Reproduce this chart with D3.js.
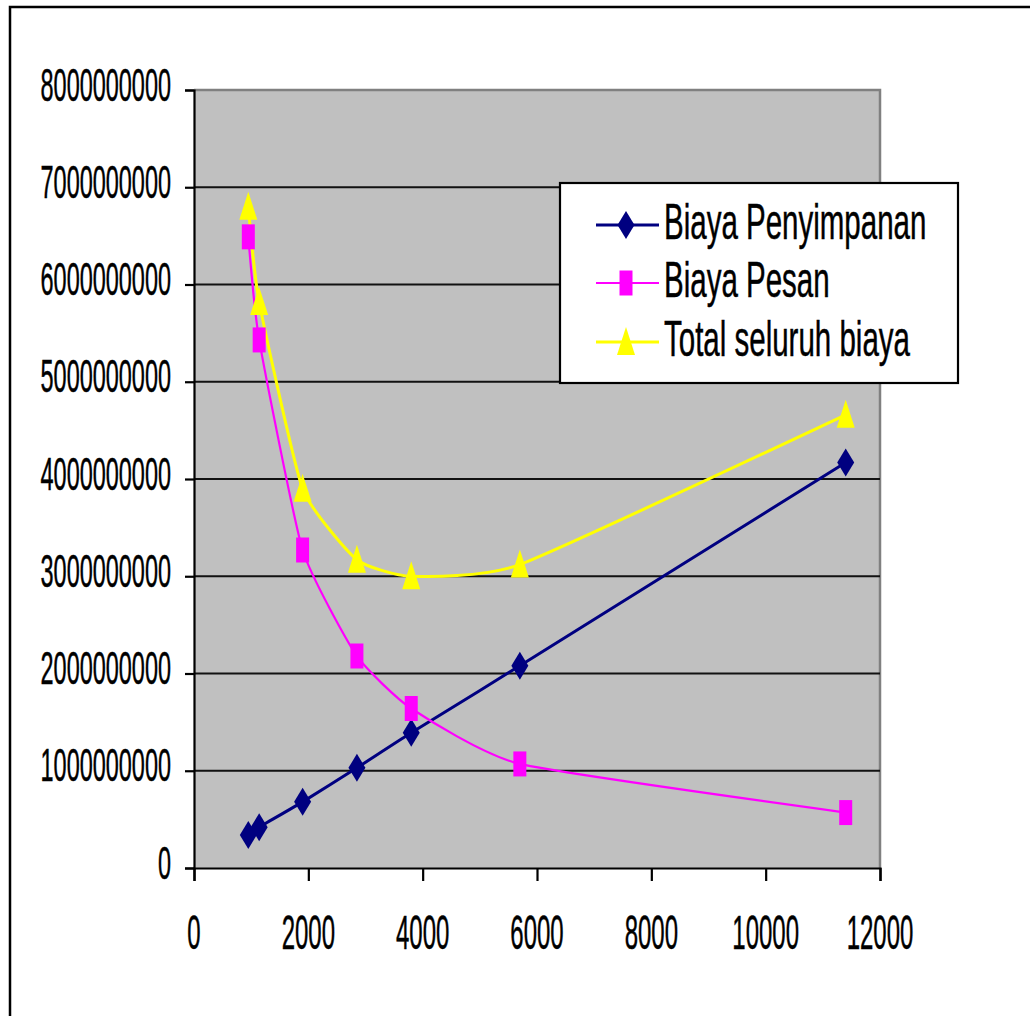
<!DOCTYPE html>
<html>
<head>
<meta charset="utf-8">
<script src="https://cdn.jsdelivr.net/npm/d3@7"></script>
<style>
  html, body { margin: 0; padding: 0; background: #fff; }
  svg { display: block; }
  text { font-family: "Liberation Sans", Arial, sans-serif; fill: #000; stroke: #000; stroke-width: 0.5px; }
</style>
</head>
<body>
<svg id="chart" width="1030" height="1016"></svg>
<script>
// Order quantity (units per order)
const quantities = [950, 1140, 1900, 2850, 3800, 5700, 11400];
// Holding cost
const biayaPenyimpanan = [0.34e9, 0.42e9, 0.68e9, 1.03e9, 1.39e9, 2.08e9, 4.17e9];
// Ordering cost
const biayaPesan = [6.49e9, 5.43e9, 3.27e9, 2.18e9, 1.64e9, 1.07e9, 0.57e9];
// Total cost
const totalBiaya = [6.80e9, 5.82e9, 3.90e9, 3.17e9, 3.00e9, 3.12e9, 4.66e9];

const seriesNames = ["Biaya Penyimpanan", "Biaya Pesan", "Total seluruh biaya"];
const xTicks = [0, 2000, 4000, 6000, 8000, 10000, 12000];
const yTicks = [0, 1e9, 2e9, 3e9, 4e9, 5e9, 6e9, 7e9, 8e9];

const series = [
  { name: seriesNames[0], values: biayaPenyimpanan, color: "#000080", width: 3, marker: "diamond" },
  { name: seriesNames[1], values: biayaPesan, color: "#FF00FF", width: 2.2, marker: "square" },
  { name: seriesNames[2], values: totalBiaya, color: "#FFFF00", width: 3, marker: "triangle" }
];

const svg = d3.select("#chart");
const plot = { left: 194, right: 880, top: 90, bottom: 868 };

const x = d3.scaleLinear().domain([0, 12000]).range([plot.left, plot.right]);
const y = d3.scaleLinear().domain([0, 8e9]).range([plot.bottom, plot.top]);

// Outer chart frame (runs off the right and bottom edges)
svg.append("rect")
  .attr("x", 10).attr("y", 7)
  .attr("width", 1100).attr("height", 1100)
  .attr("fill", "#fff").attr("stroke", "#000").attr("stroke-width", 2.5);

// Plot area
svg.append("rect")
  .attr("x", plot.left).attr("y", plot.top)
  .attr("width", plot.right - plot.left).attr("height", plot.bottom - plot.top)
  .attr("fill", "#C0C0C0");
svg.append("path")
  .attr("d", `M${plot.left},${plot.top}H${plot.right}V${plot.bottom}`)
  .attr("fill", "none").attr("stroke", "#808080").attr("stroke-width", 2.5);

// Horizontal gridlines
svg.append("g").selectAll("line")
  .data(yTicks.filter(v => v > 0 && v < 8e9))
  .join("line")
  .attr("x1", plot.left).attr("x2", plot.right)
  .attr("y1", d => y(d)).attr("y2", d => y(d))
  .attr("stroke", "#111").attr("stroke-width", 2.2);

// Axes
const yAxis = svg.append("g")
  .attr("transform", `translate(${plot.left},0)`)
  .call(d3.axisLeft(y).tickValues(yTicks).tickSize(9).tickFormat(""));
const xAxis = svg.append("g")
  .attr("transform", `translate(0,${plot.bottom})`)
  .call(d3.axisBottom(x).tickValues(xTicks).tickSize(13).tickFormat(""));
[yAxis, xAxis].forEach(a => {
  a.select(".domain").attr("stroke", "#000").attr("stroke-width", 2.2);
  a.selectAll(".tick line").attr("stroke", "#000").attr("stroke-width", 2.2);
});

// Narrow text: a normal face compressed horizontally
function squashedText(parent, tx, ty, str, size, sx, anchor) {
  const g = parent.append("g").attr("transform", `translate(${tx},${ty}) scale(${sx},1)`);
  g.append("text")
    .attr("font-size", size)
    .attr("text-anchor", anchor)
    .attr("dominant-baseline", "central")
    .text(str);
  return g;
}

const fmt = d3.format("d");
const yLabels = svg.append("g");
yTicks.forEach(v => squashedText(yLabels, 171, y(v) - 5, fmt(v), 46, 0.51, "end"));

const xLabels = svg.append("g");
xTicks.forEach(v => squashedText(xLabels, x(v), 933, fmt(v), 48, 0.5, "middle"));

// Lines (smoothed)
const line = d3.line()
  .x((d, i) => x(quantities[i]))
  .y(d => y(d))
  .curve(d3.curveCardinal.tension(0.5));

const lines = svg.append("g");
series.forEach(s => {
  lines.append("path")
    .datum(s.values)
    .attr("d", line)
    .attr("fill", "none")
    .attr("stroke", s.color)
    .attr("stroke-width", s.width)
    .attr("stroke-linejoin", "round");
});

// Marker shapes centred on (0,0)
function markerPath(kind) {
  if (kind === "diamond") return "M0,-14L8.5,0L0,14L-8.5,0Z";
  if (kind === "square") return "M-6.5,-12.5H6.5V12.5H-6.5Z";
  return "M0,-15L9,13H-9Z";
}

const markers = svg.append("g");
series.forEach(s => {
  markers.append("g").selectAll("path")
    .data(s.values)
    .join("path")
    .attr("transform", (d, i) => `translate(${x(quantities[i])},${y(d)})`)
    .attr("d", markerPath(s.marker))
    .attr("fill", s.color);
});

// Legend
const legend = svg.append("g");
legend.append("rect")
  .attr("x", 560).attr("y", 183).attr("width", 398).attr("height", 200)
  .attr("fill", "#fff").attr("stroke", "#000").attr("stroke-width", 2.2);
const rowY = [225, 283, 342];
series.forEach((s, i) => {
  const ry = rowY[i];
  legend.append("line")
    .attr("x1", 596).attr("x2", 659).attr("y1", ry).attr("y2", ry)
    .attr("stroke", s.color).attr("stroke-width", s.width);
  legend.append("path")
    .attr("transform", `translate(626,${ry})`)
    .attr("d", markerPath(s.marker))
    .attr("fill", s.color);
  squashedText(legend, 664, ry - 3, s.name, 50, 0.59, "start");
});
</script>
</body>
</html>
